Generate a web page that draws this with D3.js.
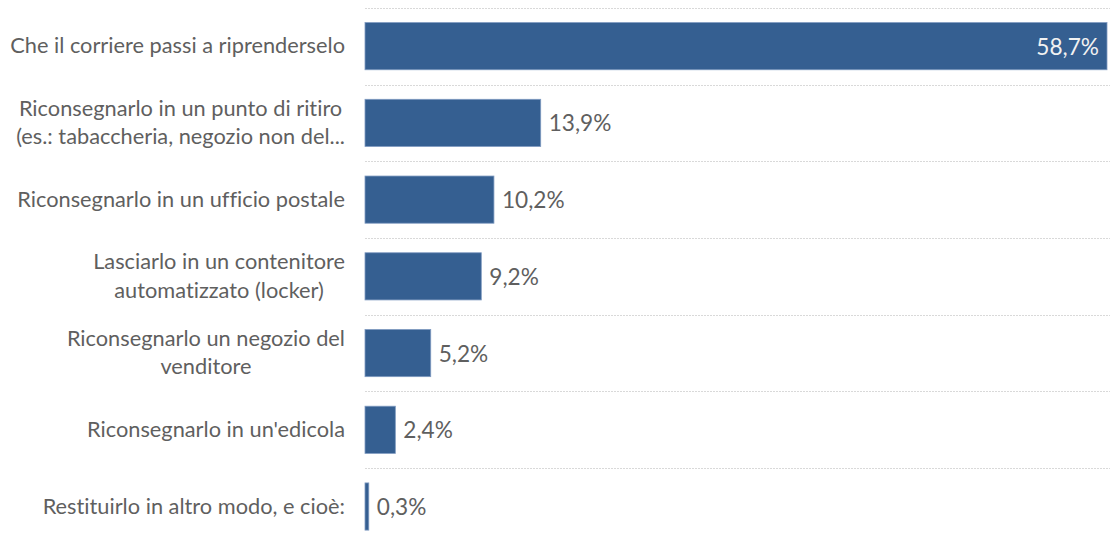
<!DOCTYPE html>
<html>
<head>
<meta charset="utf-8">
<script src="https://cdn.jsdelivr.net/npm/d3@7"></script>
<style>
  html, body { margin: 0; padding: 0; background: #fff; }
  svg { display: block; }
  svg text { font-variant-ligatures: none; font-feature-settings: "liga" 0; }
</style>
</head>
<body>
<svg id="chart" width="1110" height="538"></svg>
<script>
// Survey answers (each entry may span two lines)
const categories = [
  ["Che il corriere passi a riprenderselo"],
  ["Riconsegnarlo in un punto di ritiro", "(es.: tabaccheria, negozio non del..."],
  ["Riconsegnarlo in un ufficio postale"],
  ["Lasciarlo in un contenitore", "automatizzato (locker)"],
  ["Riconsegnarlo un negozio del", "venditore"],
  ["Riconsegnarlo in un'edicola"],
  ["Restituirlo in altro modo, e cioè:"]
];
const values = [58.7, 13.9, 10.2, 9.2, 5.2, 2.4, 0.3];
const valueLabels = ["58,7%", "13,9%", "10,2%", "9,2%", "5,2%", "2,4%", "0,3%"];

const W = 1110, H = 538;
const margin = { top: 8, left: 365, right: 3 };
const bandH = 76.67;
const FONT = "Lato, 'Open Sans', sans-serif";
const TEXT = "#5f5f5f";

const svg = d3.select("#chart");

const x = d3.scaleLinear().domain([0, 58.7]).range([margin.left, W - margin.right]);
const y = d3.scaleBand()
  .domain(d3.range(categories.length))
  .range([margin.top, margin.top + bandH * categories.length])
  .paddingInner(0.385).paddingOuter(0.19);

// fit the label font so the longest single-line label spans the left gutter
const probe = svg.append("text").attr("font-family", FONT).attr("font-size", 18)
  .text(categories[0][0]);
const fs = 18 * 335 / probe.node().getComputedTextLength();
probe.remove();

// separators between categories
const gridY = d3.range(categories.length + 1).map(i => margin.top + i * bandH);
svg.append("g").selectAll("line").data(gridY).join("line")
  .attr("x1", margin.left).attr("x2", W)
  .attr("y1", d => Math.round(d) + 0.5).attr("y2", d => Math.round(d) + 0.5)
  .attr("stroke", "#d9d9d9").attr("stroke-width", 1)
  .attr("stroke-dasharray", "2,1");

// bars
svg.append("g").selectAll("rect").data(values).join("rect")
  .attr("x", x(0))
  .attr("y", (d, i) => y(i))
  .attr("width", d => x(d) - x(0))
  .attr("height", y.bandwidth())
  .attr("fill", "#355f91")
  .attr("stroke", "#7f9ac0")
  .attr("stroke-width", 0.8);

// value labels
svg.append("g").selectAll("text").data(values).join("text")
  .attr("font-family", FONT).attr("font-size", fs * 1.04)
  .attr("dominant-baseline", "central")
  .attr("y", (d, i) => y(i) + y.bandwidth() / 2)
  .attr("x", (d, i) => i === 0 ? x(d) - 8 : x(d) + 8)
  .attr("text-anchor", (d, i) => i === 0 ? "end" : "start")
  .attr("fill", (d, i) => i === 0 ? "#f2f2f2" : TEXT)
  .text((d, i) => valueLabels[i]);

// category labels: block right-aligned, lines centred within the block
const lineH = fs * 1.3;
const labelRight = 345;
const lg = svg.append("g").attr("font-family", FONT).attr("font-size", fs).attr("fill", TEXT);
categories.forEach((lines, i) => {
  const cy = y(i) + y.bandwidth() / 2;
  const texts = lines.map((s, j) => lg.append("text")
    .attr("dominant-baseline", "central")
    .attr("text-anchor", "middle")
    .attr("y", cy + (j - (lines.length - 1) / 2) * lineH - 1)
    .text(s));
  const maxW = d3.max(texts, t => t.node().getComputedTextLength());
  texts.forEach(t => t.attr("x", labelRight - maxW / 2));
});
</script>
</body>
</html>
